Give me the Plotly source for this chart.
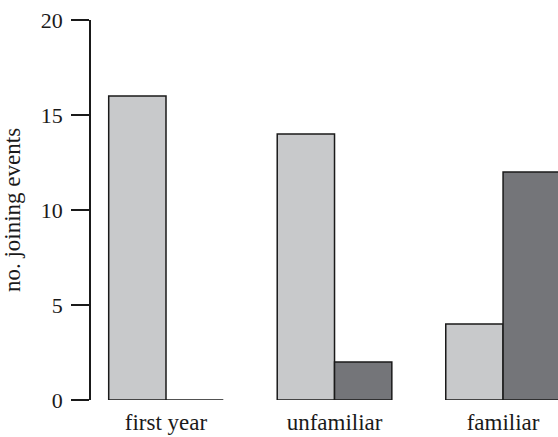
import plotly.graph_objects as go

# joining events by group
categories = ["first year", "unfamiliar", "familiar"]
series_light = [16, 14, 4]
series_dark = [0, 2, 12]
y_ticks = [0, 5, 10, 15, 20]

FONT = "Liberation Serif"

fig = go.Figure()
fig.add_trace(go.Bar(
    x=categories, y=series_light,
    marker=dict(color="#c8c9cb", line=dict(color="#1a1a1a", width=1.5)),
    showlegend=False,
))
fig.add_trace(go.Bar(
    x=categories, y=series_dark,
    marker=dict(color="#747579", line=dict(color="#1a1a1a", width=1.5)),
    showlegend=False,
))

fig.update_layout(
    width=558, height=437,
    margin=dict(l=91, r=0, t=20, b=37),
    paper_bgcolor="white", plot_bgcolor="white",
    barmode="group", bargap=0.32, bargroupgap=0,
    font=dict(family=FONT, size=22, color="#1a1a1a"),
    xaxis=dict(
        type="category", range=[-0.445, 2.326],
        showline=False, showgrid=False, zeroline=False, ticks="",
        tickfont=dict(size=23), ticklabelstandoff=6,
    ),
    yaxis=dict(
        range=[0, 20], tickvals=y_ticks,
        showline=True, linecolor="#1a1a1a", linewidth=1.5,
        ticks="outside", ticklen=18, tickwidth=1.5, tickcolor="#1a1a1a",
        showgrid=False, zeroline=False,
        tickfont=dict(size=22), ticklabelstandoff=4,
        title=dict(text="no. joining events", font=dict(size=23), standoff=14),
    ),
)

fig.write_html("out.html")
